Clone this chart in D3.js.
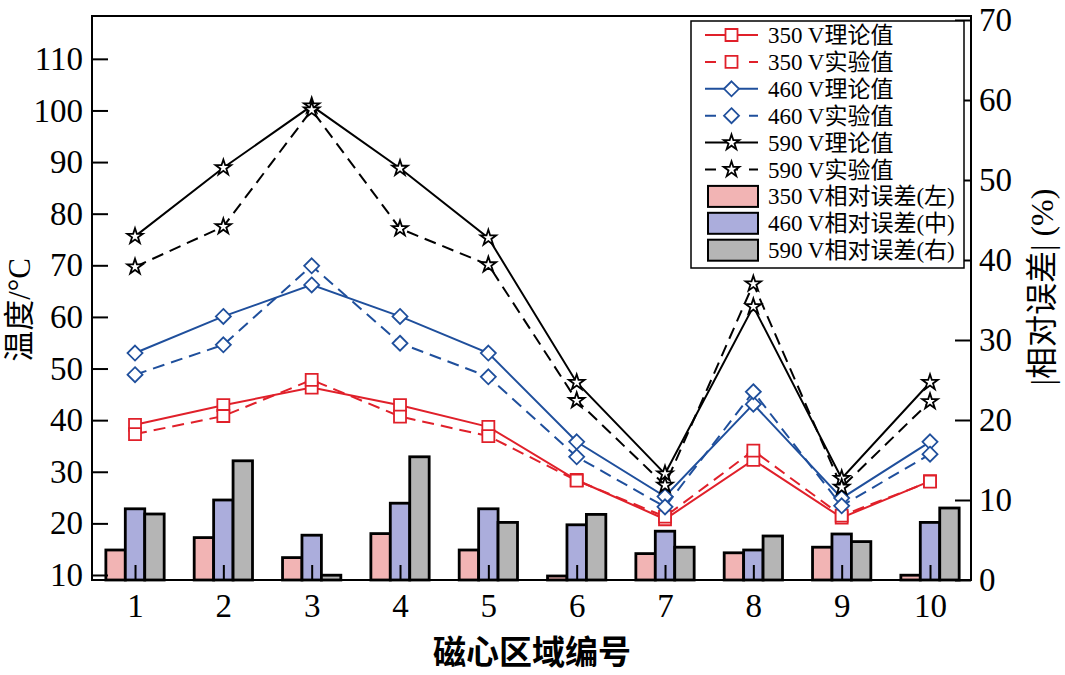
<!DOCTYPE html>
<html><head><meta charset="utf-8">
<script src="https://cdn.jsdelivr.net/npm/d3@7"></script>
<style>
html,body{margin:0;padding:0;background:#fff;}
svg{display:block;}
text{font-family:"Liberation Serif","Noto Sans CJK SC",serif;fill:#000;}
</style></head>
<body>
<svg id="chart" width="1065" height="675"></svg>
<script>
const regions = [1,2,3,4,5,6,7,8,9,10];
const t350 = [39.1, 42.9, 46.3, 42.9, 38.7, 28.4, 20.8, 32.3, 21.1, 28.2];
const e350 = [37.3, 40.8, 47.8, 40.7, 36.9, 28.3, 21.3, 34.1, 21.5, 28.1];
const t460 = [53.0, 60.1, 66.2, 60.1, 53.0, 35.8, 25.2, 43.1, 24.9, 35.8];
const e460 = [48.8, 54.6, 69.9, 54.9, 48.4, 32.9, 23.2, 45.5, 23.4, 33.4];
const t590 = [75.6, 88.9, 100.9, 88.8, 75.3, 47.3, 29.6, 62.0, 28.7, 47.3];
const e590 = [69.7, 77.5, 100.1, 77.1, 70.1, 43.8, 27.4, 66.4, 27.0, 43.6];
const err350 = [3.75, 5.3, 2.8, 5.8, 3.75, 0.5, 3.3, 3.4, 4.1, 0.6];
const err460 = [8.9, 10.0, 5.6, 9.6, 8.9, 6.9, 6.1, 3.75, 5.75, 7.2];
const err590 = [8.25, 14.9, 0.6, 15.4, 7.2, 8.2, 4.1, 5.5, 4.8, 9.0];
const leftTicks = [10,20,30,40,50,60,70,80,90,100,110];
const rightTicks = [0,10,20,30,40,50,60,70];
const lineLabels = ["350 V理论值","350 V实验值","460 V理论值","460 V实验值","590 V理论值","590 V实验值"];
const barLabels = ["350 V相对误差(左)","460 V相对误差(中)","590 V相对误差(右)"];

const RED = "#e0202a", BLUE = "#1f4f9c", BLACK = "#000";
const barColors = ["#f2b4b4", "#abaddc", "#b5b5b5"];

const svg = d3.select("#chart");
const L = 92, R = 971, T = 16, B = 580;
const x = d3.scaleLinear().domain([0.513, 10.464]).range([L, R]);
const yL = d3.scaleLinear().domain([9.03, 118.3]).range([B, T]);
const yR = d3.scaleLinear().domain([0, 70.5]).range([B, T]);

// bars
const bw = 0.22;
const barSeries = [err350, err460, err590];
barSeries.forEach((s, k) => {
  svg.append("g").selectAll("rect").data(s).join("rect")
    .attr("x", (d, i) => x(regions[i] + (k - 1) * bw - bw / 2))
    .attr("width", x(bw) - x(0))
    .attr("y", d => yR(d))
    .attr("height", d => yR(0) - yR(d))
    .attr("fill", barColors[k]).attr("stroke", "#000").attr("stroke-width", 2.8);
});

// frame
svg.append("rect").attr("x", L).attr("y", T).attr("width", R - L).attr("height", B - T)
  .attr("fill", "none").attr("stroke", "#000").attr("stroke-width", 2);

// axes
const fs = "33px";
const gL = svg.append("g").attr("transform", `translate(${L},0)`)
  .call(d3.axisLeft(yL).tickValues(leftTicks).tickSize(-16).tickSizeOuter(0).tickPadding(9));
const gR = svg.append("g").attr("transform", `translate(${R},0)`)
  .call(d3.axisRight(yR).tickValues(rightTicks).tickSize(-16).tickSizeOuter(0).tickPadding(8));
const gB = svg.append("g").attr("transform", `translate(0,${B})`)
  .call(d3.axisBottom(x).tickValues(regions).tickSize(-15).tickSizeOuter(0).tickPadding(14));
[gL, gR, gB].forEach(g => {
  g.select(".domain").remove();
  g.selectAll(".tick line").attr("stroke", "#000").attr("stroke-width", 2);
  g.selectAll(".tick text").style("font-size", fs).attr("fill", "#000")
    .style("font-family", '"Liberation Serif", serif');
});

// symbols
function markerPath(type) {
  if (type === "square") { const s = 6; return `M${-s},${-s}H${s}V${s}H${-s}Z`; }
  if (type === "diamond") { const s = 7.5; return `M0,${-s}L${s},0L0,${s}L${-s},0Z`; }
  return d3.symbol().type(d3.symbolStar).size(75)();
}

const lineSeries = [
  {v: t350, c: RED, dash: null, m: "square"},
  {v: e350, c: RED, dash: "12,7", m: "square"},
  {v: t460, c: BLUE, dash: null, m: "diamond"},
  {v: e460, c: BLUE, dash: "12,7", m: "diamond"},
  {v: t590, c: BLACK, dash: null, m: "star"},
  {v: e590, c: BLACK, dash: "12,7", m: "star"}
];
const line = d3.line().x((d, i) => x(regions[i])).y(d => yL(d));
lineSeries.forEach(s => {
  svg.append("path").datum(s.v).attr("d", line).attr("fill", "none")
    .attr("stroke", s.c).attr("stroke-width", 2).attr("stroke-dasharray", s.dash);
});
lineSeries.forEach(s => {
  svg.append("g").selectAll("path").data(s.v).join("path")
    .attr("d", markerPath(s.m))
    .attr("transform", (d, i) => `translate(${x(regions[i])},${yL(d)})`)
    .attr("fill", "#fff").attr("stroke", s.c).attr("stroke-width", 1.8);
});

// legend
const lg = svg.append("g");
lg.append("rect").attr("x", 691).attr("y", 21).attr("width", 273).attr("height", 247)
  .attr("fill", "#fff").attr("stroke", "#000").attr("stroke-width", 1.5);
const rowY = i => 35 + i * 26.9;
lineSeries.forEach((s, i) => {
  const y = rowY(i);
  lg.append("line").attr("x1", 705).attr("x2", 758).attr("y1", y).attr("y2", y)
    .attr("stroke", s.c).attr("stroke-width", 2).attr("stroke-dasharray", s.dash ? "11,11" : null);
  lg.append("path").attr("d", markerPath(s.m)).attr("transform", `translate(731.5,${y})`)
    .attr("fill", "#fff").attr("stroke", s.c).attr("stroke-width", 1.8);
  lg.append("text").attr("x", 768).attr("y", y).attr("dy", "0.35em")
    .style("font-size", "23px").text(lineLabels[i]);
});
barLabels.forEach((t, k) => {
  const y = rowY(6 + k);
  lg.append("rect").attr("x", 708).attr("y", y - 10.5).attr("width", 50).attr("height", 21)
    .attr("fill", barColors[k]).attr("stroke", "#000").attr("stroke-width", 2);
  lg.append("text").attr("x", 768).attr("y", y).attr("dy", "0.35em")
    .style("font-size", "23px").text(t);
});

// titles
svg.append("text").attr("transform", "translate(30,310) rotate(-90)")
  .attr("text-anchor", "middle").style("font-size", "31px").text("温度/°C");
svg.append("text").attr("transform", "translate(1053,287) rotate(-90)")
  .attr("text-anchor", "middle").style("font-size", "32px").text("|相对误差| (%)");
svg.append("text").attr("x", 532).attr("y", 664)
  .attr("text-anchor", "middle").style("font-size", "33px").style("font-weight", "bold")
  .style("font-family", '"Noto Sans CJK SC", sans-serif').text("磁心区域编号");
</script>
</body></html>
